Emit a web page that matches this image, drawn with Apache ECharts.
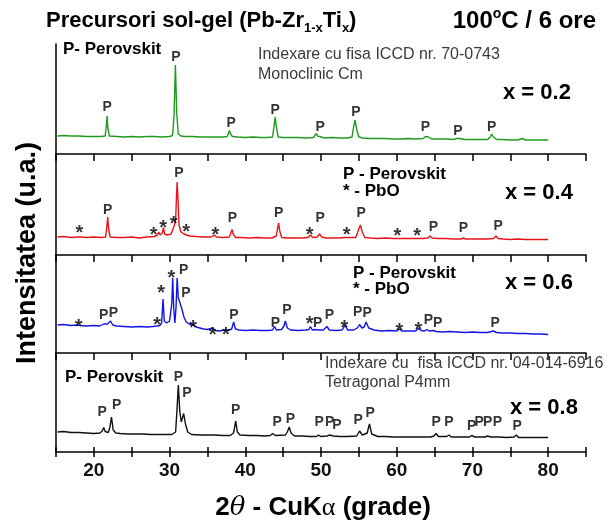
<!DOCTYPE html>
<html><head><meta charset="utf-8">
<script src="https://cdn.jsdelivr.net/npm/echarts@6/dist/echarts.min.js"></script>
<style>html,body{margin:0;padding:0;background:#fff}#c{width:611px;height:529px}</style>
</head><body><div id="c"></div>
<script>
// ---- data (2θ in degrees, intensity in arbitrary units) ----
const tickLabels = [20, 30, 40, 50, 60, 70, 80];
const sampleNames = ['x = 0.2', 'x = 0.4', 'x = 0.6', 'x = 0.8'];
const lineColors = ['#1f9a1f', '#e8141a', '#1414e6', '#111111'];

const pattern02 = [[15.2,18],[16,18.5],[17,18],[18,18],[19,17.5],[20,17.5],[21,17.5],[21.5,18],[21.65,28],[21.75,38],[21.85,26],[22.05,18],[23,17.5],[24,17],[25,17.5],[26,17],[27,17.5],[28,17.5],[29,17],[30,17.5],[30.4,18.5],[30.6,40],[30.77,89],[30.95,40],[31.15,20],[31.5,18],[32,17.5],[33,17.5],[34,17],[35,17],[36,17],[37,17],[37.6,17.5],[37.8,21],[37.9,23.5],[38.05,20],[38.3,17.5],[39,17],[40,16.5],[41,17],[42,16.5],[43,16.5],[43.6,17],[43.8,28],[43.95,37],[44.1,27],[44.35,17],[45,16.5],[46,16.5],[47,16.5],[48,16],[49,16.5],[49.25,18],[49.4,20.5],[49.55,18],[49.8,16],[50.5,16],[51.5,16.5],[52.5,16],[53.5,16],[54.1,17],[54.3,27],[54.5,34],[54.7,25],[55,17],[55.5,16],[56.5,15.5],[57.5,15.5],[58.5,15.5],[59.5,15],[60.5,15],[61.5,15.5],[62.5,15],[63.5,15.5],[63.8,17.5],[64,19.5],[64.2,17],[64.6,15],[65.5,15],[66.5,15],[67.5,14.5],[67.9,15.5],[68.1,17],[68.3,15.5],[69,14.5],[70,14.5],[71,14.5],[72,14.5],[72.35,17],[72.55,20],[72.75,17],[73.2,14.5],[74,14.5],[75,14],[76,14],[76.6,15.5],[77,14],[78,14],[79,14],[80,14]];
const pattern04 = [[15.2,18],[16,18.5],[17,17.5],[17.9,18],[18.1,19.5],[18.3,18],[19,17.5],[20,18],[21,17.5],[21.55,18],[21.7,27],[21.83,38],[21.95,26],[22.15,18],[23,17.5],[24,17.5],[25,18],[26,17],[27,18],[28,18.5],[28.4,20],[28.56,23],[28.75,20],[29.05,22],[29.2,27.5],[29.35,21],[29.7,20],[30.2,21],[30.5,27],[30.65,30],[30.8,35],[30.92,60],[31.0,73],[31.12,55],[31.25,30],[31.5,23],[31.8,21.5],[32.2,20],[32.7,19],[33.5,18.5],[34.5,18],[35.5,18],[35.9,20],[36.2,18],[37,17.5],[37.9,18],[38.1,22],[38.25,25.5],[38.4,21],[38.7,17.5],[39.5,17.5],[40.5,17],[41.5,17.5],[42.5,17],[43.5,17],[44.1,19],[44.25,26],[44.4,32],[44.55,24],[44.8,17.5],[45.5,17],[46.5,17],[47.5,17],[48.3,17.5],[48.6,20],[48.9,17.5],[49.5,18],[49.8,21],[50.1,18],[50.6,17],[51.5,17],[52.5,17],[53,17.5],[53.2,19],[53.4,17.5],[54.6,17.5],[54.95,25],[55.2,30],[55.45,23],[55.8,17.5],[56.5,17],[57.5,16.5],[58.5,17],[59.5,16.5],[60.5,16.5],[61.5,16.5],[62.5,16.5],[63.5,16.5],[64.1,17],[64.4,19],[64.7,17],[65.5,16.5],[66.5,16.5],[67.5,16],[68.5,16],[68.8,17],[69.1,16],[70,16],[71,16],[72,16],[72.8,16.5],[73.1,19],[73.4,16.5],[74,16],[75,15.5],[76,16],[77,15.5],[78,15.5],[79,15.5],[80,15.5]];
const pattern06 = [[15.2,28],[16,28.5],[17,27.5],[17.8,28],[18.0,29.5],[18.2,27.5],[19,27],[20,27.5],[20.8,27],[21.3,29],[21.53,31],[21.8,29],[22.0,30],[22.2,32],[22.5,28],[23,27],[24,26.5],[25,26],[26,26.5],[27,26],[27.8,26.5],[28.3,27],[28.5,28.5],[28.7,27.5],[28.95,30],[29.14,54],[29.3,32],[29.6,30],[30.0,32],[30.3,50],[30.41,75],[30.55,45],[30.7,30],[30.85,45],[31.0,75],[31.15,55],[31.3,52],[31.5,50],[31.7,42],[31.9,36],[32.2,31],[32.6,29],[33.1,28],[33.5,26],[34,25],[34.5,24],[35,23.5],[35.7,25],[36,22.5],[36.6,22],[37.2,23],[37.45,25],[37.7,22.5],[38.2,24],[38.46,31],[38.7,24],[39.2,23],[40,22.5],[41,23],[42,22.5],[43,22.5],[43.6,23],[43.87,26.5],[44.1,23],[44.8,23.5],[45.1,27],[45.3,32],[45.55,25],[46,23],[47,22.5],[48,23],[48.4,23.5],[48.6,26.5],[48.85,23],[49.2,23.5],[49.4,25.5],[49.65,23],[50.3,23],[50.78,26.5],[51.1,23],[52,22.5],[52.8,23],[53.2,28],[53.5,23],[54.3,23],[54.8,25],[55.08,28.5],[55.4,25],[55.7,26],[55.96,31],[56.3,25],[57,23],[58,22],[59,22.5],[60,22],[60.36,24],[60.7,22],[61.5,22],[62.5,22],[62.87,24.5],[63.2,22.5],[63.7,22],[63.97,23.5],[64.3,22],[64.85,22.5],[65.2,21.5],[66,21],[67,21.5],[68,21],[69,20.5],[70,21],[71,20.5],[72,20.5],[72.76,22],[73.2,20.5],[74,20],[75,20],[76,19.5],[77,19.5],[78,19],[79,19],[80,18.5]];
const pattern08 = [[15.2,20],[16,20.5],[17,19.5],[18,19.5],[19,19],[20,18.5],[20.8,19],[21.1,21],[21.3,24.5],[21.5,20.5],[21.9,19.5],[22.1,24],[22.33,35],[22.55,22],[22.9,19],[23.5,18.5],[24.5,18],[25.5,18],[26.5,18],[27.5,17.5],[28.5,17.5],[29.5,17.5],[30.3,17.5],[30.8,20],[31.0,45],[31.16,67],[31.35,40],[31.55,30],[31.86,38.5],[32.1,28],[32.4,20],[32.9,17.5],[34,17],[35,17],[36,17],[37,16.5],[38,16.5],[38.45,19],[38.74,31],[38.95,20],[39.3,17],[40.5,16.5],[41.5,16.5],[42.5,16],[43.3,16.5],[43.63,18.5],[43.95,16.5],[45.3,17],[45.55,20],[45.8,25],[46.05,19],[46.5,16],[47.5,16],[48.5,15.5],[49.4,15.5],[49.67,17],[49.95,15.5],[50.8,16],[51.16,17],[51.6,16],[52.5,15.5],[53.5,15.5],[54.7,16],[55.1,21],[55.45,17],[56.1,19],[56.4,28],[56.7,18],[57.5,15.5],[58.5,15.5],[59.5,15],[60.5,15],[61.5,15],[62.5,15],[63.5,15],[64.5,15],[64.9,16],[65.2,18.5],[65.5,15.5],[66.6,15.5],[66.9,17],[67.2,15],[68.5,15],[69.6,15],[69.9,16.5],[70.3,15],[71,15],[71.7,15],[72,16],[72.4,15],[73.5,15],[74.5,14.5],[75.5,15],[75.8,17],[76.1,14.5],[77,14.5],[78,14.5],[79,14.5],[80,14.5]];

// peak markers: [2θ, height, text]
const marks02 = [[21.75,47,'P'],[30.85,97,'P'],[38.15,31,'P'],[43.96,44,'P'],[49.9,27,'P'],[54.6,42,'P'],[63.8,27,'P'],[68.1,23,'P'],[72.55,27,'P']];
const marks04 = [[18.1,27,'*'],[21.83,45,'P'],[27.9,25,'*'],[29.14,32,'*'],[30.55,36,'*'],[31.25,82,'P'],[32.2,28,'*'],[36.05,25,'*'],[38.3,37,'P'],[44.4,42,'P'],[48.5,25,'*'],[49.9,37,'P'],[53.4,25,'*'],[55.3,42,'P'],[60.1,24,'*'],[62.7,24,'*'],[64.85,28,'P'],[68.8,27,'P'],[73.4,29,'P']];
const marks06 = [[18.0,31,'*'],[21.3,38,'P'],[22.6,40,'P'],[28.35,33,'*'],[28.88,65,'*'],[30.24,80,'*'],[31.86,83,'P'],[32.17,60,'P'],[33.1,30,'*'],[35.7,23,'*'],[37.45,23,'*'],[38.5,38,'P'],[43.97,30,'P'],[45.5,43,'P'],[48.5,34,'*'],[49.55,30,'P'],[51.1,38,'P'],[53.1,30,'*'],[54.85,41,'P'],[56.1,40,'P'],[60.36,27,'*'],[62.87,28,'*'],[64.2,33,'P'],[65.4,30,'P'],[73.0,30,'P']];
const marks08 = [[21.1,40,'P'],[23.0,47,'P'],[31.16,75,'P'],[32.3,59,'P'],[38.74,42,'P'],[44.2,30,'P'],[45.95,33,'P'],[49.77,30,'P'],[51.16,30,'P'],[52.1,27,'P'],[54.9,32,'P'],[56.5,39,'P'],[65.2,30,'P'],[66.9,30,'P'],[69.9,26,'P'],[70.9,30,'P'],[72.0,30,'P'],[73.3,30,'P'],[75.9,26,'P']];

const patterns = [pattern02, pattern04, pattern06, pattern08];
const markSets = [marks02, marks04, marks06, marks08];

// ---- layout ----
const FONT = '"Liberation Sans", Arial, sans-serif';
const panels = [{top: 44, height: 110}, {top: 154, height: 101}, {top: 255, height: 98}, {top: 353, height: 99}];
const grids = panels.map(p => ({left: 56, right: 25, top: p.top, height: p.height}));

const xAxes = panels.map((p, i) => ({
  gridIndex: i, type: 'value', min: 15, max: 85, interval: 5,
  axisLine: {show: true, lineStyle: {color: '#000', width: 1.5}},
  axisTick: {show: true, inside: false, length: i === 3 ? 5 : 7, lineStyle: {color: '#000', width: 1.5}},
  axisLabel: {show: i === 3, margin: 9, color: '#111', fontFamily: FONT, fontWeight: 'bold', fontSize: 19,
    formatter: v => tickLabels.includes(v) ? String(v) : ''},
  splitLine: {show: false}
}));
// inner ticks for the bottom axis
xAxes.push({gridIndex: 3, type: 'value', min: 15, max: 85, interval: 5, position: 'bottom',
  axisLine: {show: false}, axisTick: {show: true, inside: true, length: 5, lineStyle: {color: '#000', width: 1.5}},
  axisLabel: {show: false}, splitLine: {show: false}});

const yAxes = panels.map((p, i) => ({
  gridIndex: i, type: 'value', min: 0, max: p.height,
  axisLine: {show: true, lineStyle: {color: '#000', width: 1.5}},
  axisTick: {show: false}, axisLabel: {show: false}, splitLine: {show: false}
}));

const series = [];
patterns.forEach((d, i) => {
  series.push({type: 'line', xAxisIndex: i, yAxisIndex: i, data: d, showSymbol: false, symbol: 'none',
    lineStyle: {color: lineColors[i], width: 1.4}, silent: true, z: 3});
  const ms = markSets[i];
  series.push({type: 'scatter', xAxisIndex: i, yAxisIndex: i, symbolSize: 0, silent: true, z: 5,
    data: ms.filter(m => m[2] === 'P'),
    label: {show: true, position: 'inside', formatter: q => q.data[2], color: '#000',
      fontFamily: FONT, fontWeight: 'bold', fontSize: 14}});
  series.push({type: 'scatter', xAxisIndex: i, yAxisIndex: i, symbolSize: 0, silent: true, z: 5,
    data: ms.filter(m => m[2] === '*'),
    label: {show: true, position: 'inside', offset: [0, 5], formatter: q => q.data[2], color: '#000',
      fontFamily: FONT, fontWeight: 'bold', fontSize: 20}});
});

function txt(x, y, text, o) {
  return Object.assign({type: 'text', x: x, y: y, z: 10, silent: true,
    style: Object.assign({text: text, fill: '#000', fontFamily: FONT, fontSize: 14, fontWeight: 'bold',
      align: 'left', verticalAlign: 'middle'}, o || {})});
}

const graphic = [
  txt(46, 21, 'Precursori sol-gel (Pb-Zr{s|1-x}Ti{s|x})', {fontSize: 22,
    rich: {s: {fontSize: 13, fontWeight: 'bold', fontFamily: FONT, padding: [14, 0, 0, 0]}}}),
  txt(596, 21, '100{o|o}C / 6 ore', {fontSize: 24, align: 'right',
    rich: {o: {fontSize: 14, fontWeight: 'bold', fontFamily: FONT, padding: [0, 0, 13, 0]}}}),
  // x = 0.2 panel
  txt(63, 49, 'P- Perovskit', {fontSize: 17}),
  txt(258, 55, 'Indexare cu fisa ICCD nr. 70-0743', {fontSize: 16, fontWeight: 'normal', fill: '#3a3a3a'}),
  txt(258, 75, 'Monoclinic Cm', {fontSize: 16, fontWeight: 'normal', fill: '#3a3a3a'}),
  txt(503, 93, sampleNames[0], {fontSize: 22}),
  // x = 0.4
  txt(343, 174, 'P - Perovskit', {fontSize: 17}),
  txt(343, 191, '* - PbO', {fontSize: 17}),
  txt(505, 193, sampleNames[1], {fontSize: 22}),
  // x = 0.6
  txt(353, 273, 'P - Perovskit', {fontSize: 17}),
  txt(353, 289, '* - PbO', {fontSize: 17}),
  txt(505, 283, sampleNames[2], {fontSize: 22}),
  // x = 0.8
  txt(65, 377, 'P- Perovskit', {fontSize: 17}),
  txt(325, 364, 'Indexare cu  fisa ICCD nr. 04-014-6916', {fontSize: 16, fontWeight: 'normal', fill: '#3a3a3a'}),
  txt(325, 383, 'Tetragonal P4mm', {fontSize: 16, fontWeight: 'normal', fill: '#3a3a3a'}),
  txt(510, 408, sampleNames[3], {fontSize: 22}),
  // axis titles
  txt(323, 508, '2{i|θ} - CuK{a|α} (grade)', {fontSize: 26, align: 'center',
    rich: {i: {fontSize: 26, fontStyle: 'italic', fontWeight: 'normal', fontFamily: '"DejaVu Serif", serif'},
           a: {fontSize: 26, fontWeight: 'normal', fontFamily: '"Liberation Serif", serif'}}}),
  Object.assign(txt(28, 253, 'Intensitatea (u.a.)', {fontSize: 27, align: 'center'}), {rotation: Math.PI / 2})
];

const chart = echarts.init(document.getElementById('c'), null, {renderer: 'canvas'});
chart.setOption({
  animation: false, backgroundColor: '#fff',
  grid: grids, xAxis: xAxes, yAxis: yAxes, series: series, graphic: graphic
});
</script></body></html>
